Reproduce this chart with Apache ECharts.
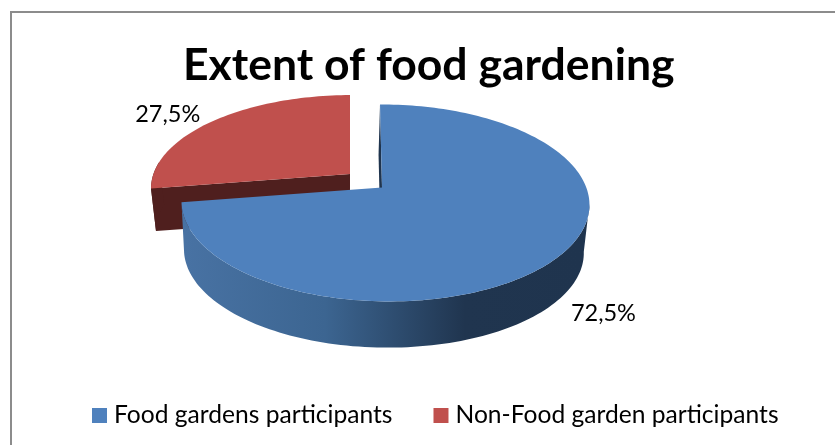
<!DOCTYPE html>
<html>
<head>
<meta charset="utf-8">
<style>html,body{margin:0;padding:0;background:#fff}#chart{width:835px;height:445px}</style>
<script src="https://cdn.jsdelivr.net/npm/echarts@6/dist/echarts.min.js"></script>
</head>
<body>
<div id="chart"></div>
<script>
const categories = ['Food gardens participants', 'Non-Food garden participants'];
const shares = [72.5, 27.5];
const titleText = 'Extent of food gardening';

const FONT = 'Lato';
const TOTAL = shares.reduce((a, b) => a + b, 0);
const TILT = { k: -0.157, m: -0.015 };

// Perspective disc for each slice: top rim, how far the base drops, and label offset.
const discs = [
  { x0: 382, y0: 187.5, a: 201.4, b: 96, s: 2.3, c: 0.5, drop: 48.5, baseScale: 0.98, baseShift: -1.5,
    top: '#4f81bd', edge: '#1f344e', labelDx: 47, labelDy: 55.5 },
  { x0: 350, y0: 174, a: 199.5, b: 91.4, s: 0, c: 0, drop: 43, baseScale: 0.975, baseShift: 0,
    top: '#c0504d', edge: '#4f1f1e', labelDx: -46, labelDy: -6 }
];
// The rim turns away from the viewer past these angles.
const FRONT_FROM = 99, FRONT_TO = 278;

function project(d, deg, base) {
  const t = deg * Math.PI / 180, u = Math.sin(t), v = -Math.cos(t);
  const w = 1 + TILT.k * v + TILT.m * u;
  const q = base ? d.baseScale : 1;
  return [
    d.x0 + (base ? d.baseShift : 0) + q * (d.a * u + d.s * v) / w,
    d.y0 + (base ? d.drop : 0) + q * (d.b * v + d.c * u) / w
  ];
}

function arc(d, from, to, base) {
  const pts = [], n = Math.max(2, Math.ceil(Math.abs(to - from) / 1.5));
  for (let i = 0; i <= n; i++) pts.push(project(d, from + (to - from) * i / n, base));
  return pts;
}

function startAngleOf(index) {
  let sum = 0;
  for (let i = 0; i < index; i++) sum += shares[i];
  return sum / TOTAL * 360;
}

const wallGradient = {
  type: 'linear', global: true, x: 185, y: 0, x2: 585, y2: 0,
  colorStops: [
    { offset: 0, color: '#4872a3' },
    { offset: 0.35, color: '#3c6591' },
    { offset: 0.7, color: '#20354f' },
    { offset: 1, color: '#1f344e' }
  ]
};

function sliceRenderer(index) {
  const d = discs[index];
  return function (params, api) {
    const value = api.value(0);
    const start = startAngleOf(index), end = start + value / TOTAL * 360;
    const children = [];

    // radial wall at the start of the slice
    const c0 = project(d, start, false);
    const cx = [d.x0, d.y0];
    const cxBase = [d.x0 + d.baseShift, d.y0 + d.drop];
    children.push({
      type: 'polygon',
      shape: { points: [c0, cx, cxBase, project(d, start, true)] },
      style: { fill: d.edge }
    });

    // curved outer wall, only the part that faces the viewer
    const from = Math.max(start, FRONT_FROM), to = Math.min(end, FRONT_TO);
    if (to > from) {
      children.push({
        type: 'polygon',
        shape: { points: arc(d, from, to, false).concat(arc(d, to, from, true)) },
        style: { fill: index === 0 ? wallGradient : d.edge }
      });
    }

    // top face
    children.push({
      type: 'polygon',
      shape: { points: [cx].concat(arc(d, start, end, false)) },
      style: { fill: d.top }
    });

    // value label beside the rim
    const rim = project(d, (start + end) / 2, false);
    children.push({
      type: 'text',
      style: {
        x: rim[0] + d.labelDx, y: rim[1] + d.labelDy,
        text: value.toFixed(1).replace('.', ',') + '%',
        font: '400 23.5px ' + FONT, fill: '#000',
        textAlign: 'center', textVerticalAlign: 'middle'
      }
    });
    return { type: 'group', children };
  };
}

const chart = echarts.init(document.getElementById('chart'), null, { renderer: 'canvas' });
chart.setOption({
  animation: false,
  backgroundColor: '#fff',
  color: discs.map(d => d.top),
  title: {
    text: titleText, left: 178, top: 38,
    textStyle: { fontFamily: FONT, fontWeight: 700, fontSize: 44.5, color: '#000' }
  },
  legend: {
    data: categories, left: 92, top: 403, padding: 0, itemWidth: 15, itemHeight: 15, itemGap: 41,
    icon: 'rect',
    textStyle: { fontFamily: FONT, fontSize: 24.6, color: '#000', padding: [0, 0, 0, 2] }
  },
  graphic: [
    { type: 'line', shape: { x1: 11, y1: 12, x2: 835, y2: 12 }, style: { stroke: '#8c8c8c', lineWidth: 2 } },
    { type: 'line', shape: { x1: 11, y1: 11, x2: 11, y2: 445 }, style: { stroke: '#8c8c8c', lineWidth: 2 } }
  ],
  series: categories.map((name, i) => ({
    type: 'custom',
    name,
    coordinateSystem: 'none',
    z: 3 - i,
    silent: true,
    data: [[shares[i]]],
    renderItem: sliceRenderer(i)
  }))
});
</script>
</body>
</html>
